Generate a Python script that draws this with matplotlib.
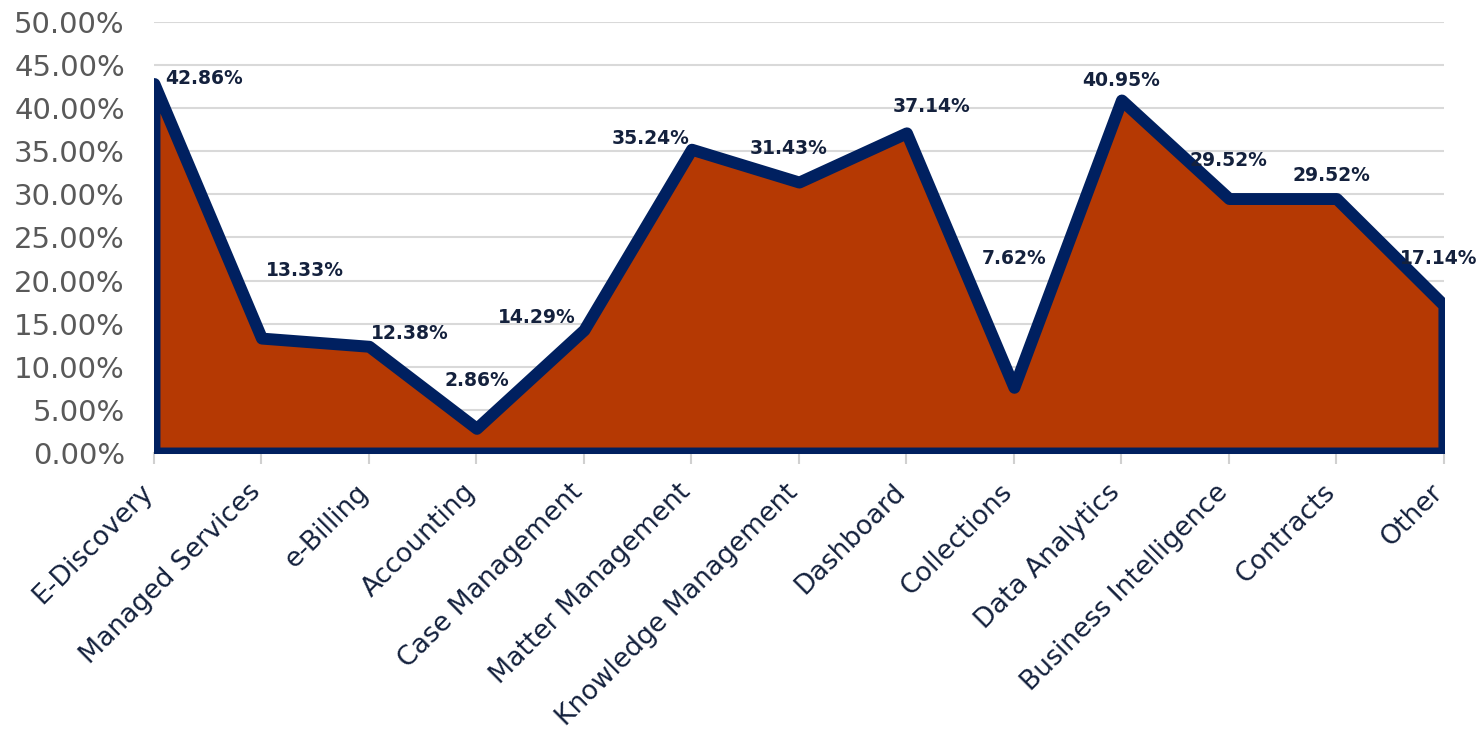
import matplotlib
matplotlib.use('Agg')
import matplotlib.pyplot as plt
from matplotlib.ticker import FuncFormatter, MultipleLocator

# Chart data
categories = ['E-Discovery', 'Managed Services', 'e-Billing', 'Accounting', 'Case Management',
              'Matter Management', 'Knowledge Management', 'Dashboard', 'Collections',
              'Data Analytics', 'Business Intelligence', 'Contracts', 'Other']
values = [42.86, 13.33, 12.38, 2.86, 14.29, 35.24, 31.43, 37.14, 7.62, 40.95, 29.52, 29.52, 17.14]

# label offsets in pixels (dx, dy) so labels sit where they do in the original
label_offsets = [(50, 5), (43, 68), (41, 13), (0, 48), (-47, 12), (-41, 11), (-10, 34),
                 (25, 26), (0, 129), (0, 20), (0, 38), (-5, 23), (-5, 47)]

FILL = '#B53903'
EDGE = '#002060'
TEXT = '#14213D'

plt.rcParams['font.family'] = ['DejaVu Sans']

fig = plt.figure(figsize=(14.82, 7.33), dpi=100)
ax = fig.add_axes([0.1039, 0.382, 0.8704, 0.588])

x = list(range(len(categories)))
ax.fill_between(x, values, 0, facecolor=FILL, edgecolor=EDGE, linewidth=8.6,
                joinstyle='round', zorder=3)

for i, (v, off) in enumerate(zip(values, label_offsets)):
    ax.annotate(f'{v:.2f}%', (i, v), xytext=off, textcoords='offset pixels',
                ha='center', va='center', fontsize=13.5, fontweight='bold',
                color=TEXT, annotation_clip=False, zorder=5)

ax.set_xlim(0, len(categories) - 1)
ax.set_ylim(0, 50)
ax.yaxis.set_major_locator(MultipleLocator(5))
ax.yaxis.set_major_formatter(FuncFormatter(lambda y, _: f'{y:.2f}%'))
ax.grid(axis='y', color='#D9D9D9', linewidth=1.5, zorder=0)
ax.set_axisbelow(True)

ax.set_xticks(x)
ax.set_xticklabels(categories, rotation=45, ha='right', va='baseline',
                   rotation_mode='anchor', fontsize=19.2, color=TEXT)
ax.tick_params(axis='x', length=8, color='#D0D0D0', width=1.5, pad=21)
ax.tick_params(axis='y', length=0, labelsize=21, labelcolor='#595959', pad=21)

for side in ['top', 'right', 'left']:
    ax.spines[side].set_visible(False)
ax.spines['bottom'].set_color('#D0D0D0')
ax.spines['bottom'].set_linewidth(1.5)

fig.savefig('out.png', dpi=100)
